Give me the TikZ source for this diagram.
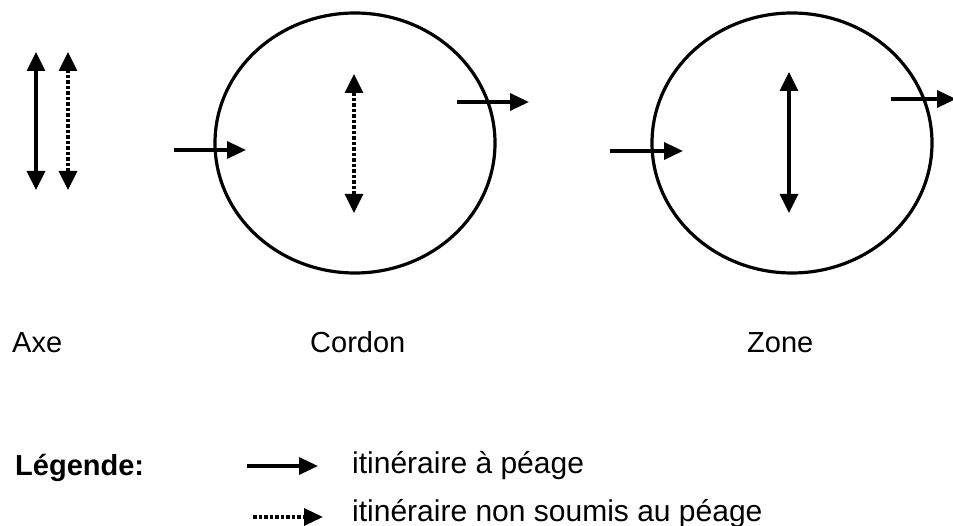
\documentclass[tikz,border=0pt]{standalone}
\usepackage{fontspec}
\setmainfont{Liberation Sans}
\usetikzlibrary{arrows.meta,shapes.geometric}
\begin{document}
\begin{tikzpicture}[x=1pt,y=-1pt,
  road/.style={line width=3.4pt,-{Triangle[length=19pt,width=17pt]}},
  road2/.style={line width=3.4pt,{Triangle[length=19pt,width=18pt]}-{Triangle[length=19pt,width=18pt]}},
  dotroad2/.style={road2,dash pattern=on 3.5pt off 2pt},
  dotroad/.style={road,dash pattern=on 3.5pt off 2pt},
  ring/.style={line width=3.2pt},
  lab/.style={anchor=base west,inner sep=0pt,font=\fontsize{29}{33}\selectfont}]
\useasboundingbox (0,0) rectangle (953,526);
% Axe
\coordinate (a1t) at (36,52); \coordinate (a1b) at (36,190);
\coordinate (a2t) at (68,52); \coordinate (a2b) at (68,190);
\draw[road2] (a1b) -- (a1t);
\draw[dotroad2] (a2b) -- (a2t);
% Cordon
\node[draw,ring,ellipse,minimum width=280pt,minimum height=260pt,inner sep=0pt] (cordon) at (355,143) {};
\coordinate (cin1) at (174,150); \coordinate (cin2) at (246,150);
\coordinate (cout1) at (457,102); \coordinate (cout2) at (529,102);
\coordinate (cvt) at (354,74); \coordinate (cvb) at (354,213);
\draw[road] (cin1) -- (cin2);
\draw[road] (cout1) -- (cout2);
\draw[dotroad2] (cvb) -- (cvt);
% Zone
\node[draw,ring,ellipse,minimum width=280pt,minimum height=260pt,inner sep=0pt] (zone) at (792,143) {};
\coordinate (zin1) at (610,151); \coordinate (zin2) at (683,151);
\coordinate (zout1) at (891,99); \coordinate (zout2) at (956,99);
\coordinate (zvt) at (789,72); \coordinate (zvb) at (789,213);
\draw[road] (zin1) -- (zin2);
\draw[road] (zout1) -- (zout2);
\draw[road2] (zvb) -- (zvt);
% labels
\node[lab] (laxe) at (12,353) {Axe};
\node[lab] (lcordon) at (310,353) {Cordon};
\node[lab] (lzone) at (747,353) {Zone};
% legend
\node[lab,font=\fontsize{29}{33}\selectfont\bfseries] (leg) at (15,475) {Légende:};
\coordinate (l1a) at (247,466); \coordinate (l1b) at (318,466);
\coordinate (l2a) at (253,517); \coordinate (l2b) at (323,517);
\draw[road] (l1a) -- (l1b);
\draw[dotroad] (l2a) -- (l2b);
\node[lab,font=\fontsize{30}{34}\selectfont] (t1) at (352,473) {itinéraire à péage};
\node[lab,font=\fontsize{30}{34}\selectfont] (t2) at (352,521) {itinéraire non soumis au péage};
\end{tikzpicture}
\end{document}
